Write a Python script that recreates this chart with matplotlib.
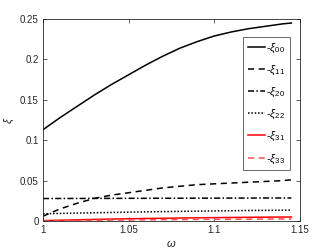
import numpy as np
import matplotlib
matplotlib.use("Agg")
import matplotlib.pyplot as plt

plt.rcParams['font.family'] = ['Liberation Sans', 'DejaVu Sans']
plt.rcParams['mathtext.fontset'] = 'custom'
plt.rcParams['mathtext.it'] = 'Liberation Sans:italic'
plt.rcParams['mathtext.rm'] = 'Liberation Sans'

# omega sample points
omega = [1.0, 1.01, 1.02, 1.03, 1.04, 1.05, 1.06, 1.07, 1.08, 1.09,
         1.10, 1.11, 1.12, 1.13, 1.14, 1.145]
xi00 = [0.113, 0.128, 0.142, 0.156, 0.169, 0.181, 0.193, 0.204, 0.214, 0.222,
        0.229, 0.234, 0.238, 0.241, 0.244, 0.245]
xi11 = [0.006, 0.015, 0.022, 0.028, 0.032, 0.035, 0.038, 0.041, 0.043, 0.045,
        0.046, 0.047, 0.048, 0.049, 0.050, 0.051]
xi20 = [0.0278, 0.0279, 0.0279, 0.0280, 0.0280, 0.0281, 0.0281, 0.0282, 0.0282, 0.0283,
        0.0283, 0.0284, 0.0284, 0.0285, 0.0285, 0.0285]
xi22 = [0.0090, 0.0094, 0.0098, 0.0102, 0.0106, 0.0110, 0.0113, 0.0116, 0.0119, 0.0122,
        0.0125, 0.0127, 0.0130, 0.0132, 0.0134, 0.0135]
xi31 = [0.0005, 0.0010, 0.0015, 0.0020, 0.0024, 0.0028, 0.0031, 0.0034, 0.0037, 0.0040,
        0.0042, 0.0044, 0.0046, 0.0048, 0.0049, 0.0050]
xi33 = [0.0000, 0.0003, 0.0006, 0.0009, 0.0011, 0.0013, 0.0015, 0.0017, 0.0018, 0.0020,
        0.0021, 0.0022, 0.0023, 0.0024, 0.0025, 0.0025]

# matlab-ish dash patterns
series = [
    (xi00, r'-$\xi_{00}$', 'k', '-'),
    (xi11, r'-$\xi_{11}$', 'k', (0, (4, 3))),
    (xi20, r'-$\xi_{20}$', 'k', (0, (4, 1.5, 1, 1.5))),
    (xi22, r'-$\xi_{22}$', 'k', (0, (1, 1.2))),
    (xi31, r'-$\xi_{31}$', 'red', '-'),
    (xi33, r'-$\xi_{33}$', '#ff5050', (0, (4, 3))),
]

fig = plt.figure(figsize=(3.32, 2.49), dpi=100)
ax = fig.add_axes([0.1295, 0.1124, 0.774, 0.8113])

for vals, lab, col, ls in series:
    ax.plot(omega, vals, color=col, linestyle=ls, linewidth=1.1, label=lab)

ax.set_xlim(1, 1.15)
ax.set_ylim(0, 0.25)
ax.set_xticks([1, 1.05, 1.1, 1.15])
ax.set_xticklabels(['1', '1.05', '1.1', '1.15'])
ax.set_yticks([0, 0.05, 0.1, 0.15, 0.2, 0.25])
ax.set_yticklabels(['0', '0.05', '0.1', '0.15', '0.2', '0.25'])
ax.tick_params(direction='in', top=True, right=True, length=3, width=0.5,
               labelsize=7, colors='0.15', pad=3)
for sp in ax.spines.values():
    sp.set_color('0.15')
    sp.set_linewidth(0.6)

ax.set_xlabel(r'$\omega$', fontsize=8, color='0.15', labelpad=2)
ax.set_ylabel(r'$\xi$', fontsize=8, color='0.15')
ax.yaxis.set_label_coords(-0.105, 0.5)

leg = ax.legend(loc='upper right', bbox_to_anchor=(0.961, 0.911), fontsize=8,
                frameon=True, fancybox=False, handlelength=1.6, handletextpad=0.1,
                labelspacing=0.8, borderpad=0.4, borderaxespad=0)
leg.get_frame().set_edgecolor('0.15')
leg.get_frame().set_linewidth(0.6)

fig.savefig('out.png', dpi=100)
